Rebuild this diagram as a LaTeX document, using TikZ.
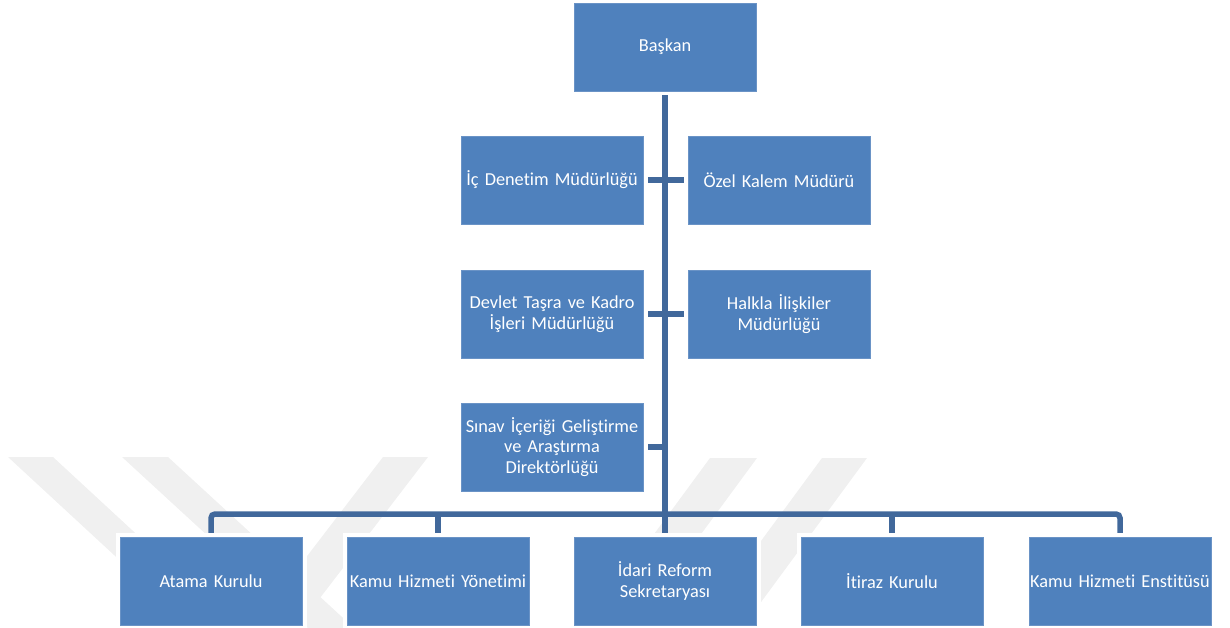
\documentclass[tikz,border=0pt]{standalone}
\usepackage{fontspec}
\setmainfont[Ligatures={NoCommon}]{Carlito}
\usetikzlibrary{backgrounds}
\definecolor{boxfill}{HTML}{4F81BD}
\definecolor{boxedge}{HTML}{6A93C6}
\definecolor{conncol}{HTML}{41689B}
\definecolor{wm}{HTML}{F0F0F0}
\begin{document}
\begin{tikzpicture}[x=1pt,y=-1pt,
  orgbox/.style={rectangle, fill=boxfill, draw=boxedge, line width=0.6pt,
    preaction={draw=white,line width=9pt},
    minimum width=182pt, minimum height=88pt, inner sep=1pt, text width=180pt,
    text=white, align=center, font=\fontsize{18.3}{20.5}\selectfont},
  conn/.style={draw=conncol, line width=5.5pt},
  wmark/.style={fill=wm, draw=none}]
\useasboundingbox (0,0) rectangle (1230,628);

% nodes
\node[orgbox] (baskan) at (665,47)  {Başkan};
\node[orgbox] (ic)     at (552,180) {İç Denetim Müdürlüğü};
\node[orgbox] (ozel)   at (779,180) {Özel Kalem Müdürü};
\node[orgbox] (devlet) at (552,314) {Devlet Taşra ve Kadro\\İşleri Müdürlüğü};
\node[orgbox] (halk)   at (779,314) {Halkla İlişkiler\\Müdürlüğü};
\node[orgbox] (sinav)  at (552,447) {Sınav İçeriği Geliştirme\\ve Araştırma\\Direktörlüğü};
\node[orgbox] (atama)  at (211,581) {Atama Kurulu};
\node[orgbox] (kamu)   at (438,581) {Kamu Hizmeti Yönetimi};
\node[orgbox] (idari)  at (665,581) {İdari Reform\\Sekretaryası};
\node[orgbox] (itiraz) at (892,581) {İtiraz Kurulu};
\node[orgbox] (enst)   at (1120,581) {Kamu Hizmeti Enstitüsü};

\coordinate (bus) at (665,514);

\begin{scope}[on background layer]
  % faint watermark
  \fill[wmark] (8,457) -- (53,457) -- (238,628) -- (193,628) -- cycle;
  \fill[wmark] (122,457) -- (168,457) -- (354,628) -- (308,628) -- cycle;
  \fill[wmark] (383,457) -- (428,457) -- (297,628) -- (252,628) -- cycle;
  \fill[wmark] (710,458) -- (757,458) -- (632,628) -- (585,628) -- cycle;
  \fill[wmark] (822,458) -- (867,458) -- (742,628) -- (697,628) -- cycle;
  % connectors
  \draw[conn] (baskan.south) -- (idari.north);
  \draw[conn] (ic.east) -- (ozel.west);
  \draw[conn] (devlet.east) -- (halk.west);
  \draw[conn] (sinav.east) -- (sinav.east -| bus);
  \draw[conn, rounded corners=4pt] (atama.north) |- (bus) -| (enst.north);
  \draw[conn] (kamu.north) -- (kamu.north |- bus);
  \draw[conn] (itiraz.north) -- (itiraz.north |- bus);
\end{scope}
\end{tikzpicture}
\end{document}
